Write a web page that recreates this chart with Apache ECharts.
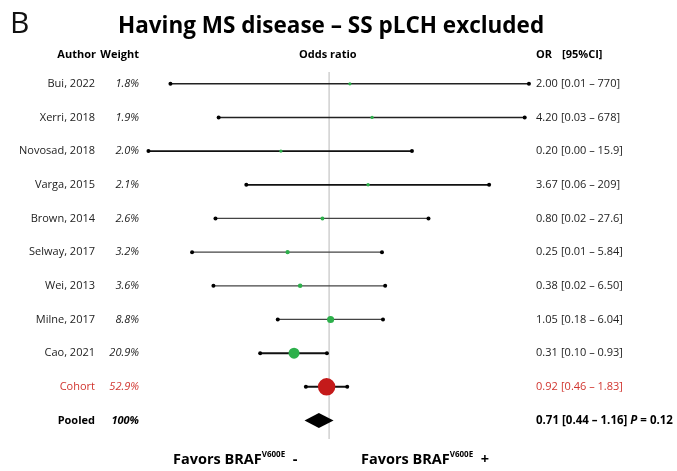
<!DOCTYPE html>
<html>
<head>
<meta charset="utf-8">
<script src="https://cdn.jsdelivr.net/npm/echarts@6/dist/echarts.min.js"></script>
<style>
  html, body { margin: 0; padding: 0; background: #fff; }
  #main { width: 677px; height: 471px; }
</style>
</head>
<body>
<div id="main"></div>
<script>
  // study rows, top to bottom
  const authors = ['Bui, 2022', 'Xerri, 2018', 'Novosad, 2018', 'Varga, 2015', 'Brown, 2014', 'Selway, 2017',
    'Wei, 2013', 'Milne, 2017', 'Cao, 2021', 'Cohort', 'Pooled'];
  const weights = [1.8, 1.9, 2.0, 2.1, 2.6, 3.2, 3.6, 8.8, 20.9, 52.9, 100];
  const orVals = [2.00, 4.20, 0.20, 3.67, 0.80, 0.25, 0.38, 1.05, 0.31, 0.92, 0.71];
  const lowerVals = [0.005, 0.025, 0.0024, 0.063, 0.0225, 0.0103, 0.021, 0.18, 0.10, 0.46, 0.44];
  const upperVals = [790, 686, 15.9, 209, 27.6, 5.84, 6.50, 6.04, 0.93, 1.83, 1.16];
  const orLabels = ['2.00', '4.20', '0.20', '3.67', '0.80', '0.25', '0.38', '1.05', '0.31', '0.92', '0.71'];
  const ciLabels = ['[0.01 – 770]', '[0.03 – 678]', '[0.00 – 15.9]', '[0.06 – 209]', '[0.02 – 27.6]',
    '[0.01 – 5.84]', '[0.02 – 6.50]', '[0.18 – 6.04]', '[0.10 – 0.93]', '[0.46 – 1.83]', '[0.44 – 1.16]'];
  const pValue = '0.12';

  const FONT = '"Open Sans", "Noto Sans", sans-serif';
  const GREEN = '#2db04b';
  const RED = '#c41a1a';
  const RED_TEXT = '#d1352f';
  // line weights of the CI whiskers (style only)
  const lineW = [1.6, 1.6, 1.8, 1.8, 1.2, 1.2, 1.2, 1.2, 2, 2, 0];
  const lineC = ['#222', '#222', '#111', '#111', '#444', '#444', '#444', '#444', '#111', '#111', '#111'];

  const rows = authors.map((a, i) => [orVals[i], i]);

  let myChart = echarts.init(document.getElementById('main'));

  function fmtWeight(w) {
    return (w >= 100 ? String(w) : w.toFixed(1)) + '%';
  }

  function renderRow(params, api) {
    let i = params.dataIndex;
    let y = api.coord([1, i])[1];
    let xl = api.coord([lowerVals[i], i])[0];
    let xu = api.coord([upperVals[i], i])[0];
    let xp = api.coord([orVals[i], i])[0];
    let isCohort = authors[i] === 'Cohort';
    let isPooled = authors[i] === 'Pooled';
    let txtColor = isCohort ? RED_TEXT : '#222';
    let children = [];

    children.push({
      type: 'text', style: {
        x: 95, y: y, text: authors[i], align: 'right', verticalAlign: 'middle',
        font: (isPooled ? 'bold ' : '') + '11px ' + FONT, fill: isPooled ? '#000' : txtColor
      }
    });
    children.push({
      type: 'text', style: {
        x: 139, y: y, text: fmtWeight(weights[i]), align: 'right', verticalAlign: 'middle',
        font: 'italic ' + (isPooled ? 'bold ' : '') + '11px ' + FONT, fill: isPooled ? '#000' : txtColor
      }
    });

    if (isPooled) {
      children.push({
        type: 'polygon',
        shape: {points: [[xl, y], [xp, y - 7.5], [xu, y], [xp, y + 7.5]]},
        style: {fill: '#000'}
      });
      children.push({
        type: 'text', style: {
          x: 536, y: y, verticalAlign: 'middle',
          text: '{b|' + orLabels[i] + ' ' + ciLabels[i] + ' }{i|P}{b| = ' + pValue + '}',
          rich: {
            b: {font: 'bold 11.5px ' + FONT, fill: '#000'},
            i: {font: 'italic bold 11.5px ' + FONT, fill: '#000'}
          }
        }
      });
    } else {
      children.push({
        type: 'line', shape: {x1: xl, y1: y, x2: xu, y2: y},
        style: {stroke: lineC[i], lineWidth: lineW[i]}
      });
      children.push({type: 'circle', shape: {cx: xl, cy: y, r: 2}, style: {fill: '#000'}});
      children.push({type: 'circle', shape: {cx: xu, cy: y, r: 2}, style: {fill: '#000'}});
      let d = 2.4 * Math.sqrt(weights[i]);
      children.push({
        type: 'circle', shape: {cx: xp, cy: y, r: d / 2},
        style: {fill: isCohort ? RED : GREEN}
      });
      children.push({
        type: 'text', style: {
          x: 536, y: y, text: orLabels[i], verticalAlign: 'middle',
          font: '11px ' + FONT, fill: txtColor
        }
      });
      children.push({
        type: 'text', style: {
          x: 561, y: y, text: ciLabels[i], verticalAlign: 'middle',
          font: '11px ' + FONT, fill: txtColor
        }
      });
    }
    return {type: 'group', children: children};
  }

  function favorsText(x, sign) {
    return {
      type: 'text', left: x, top: 451,
      style: {
        text: '{a|Favors BRAF}{s|V600E}{a|  ' + sign + '}',
        rich: {
          a: {font: 'bold 14.5px ' + FONT, fill: '#000', lineHeight: 17},
          s: {font: 'bold 8px ' + FONT, fill: '#000', lineHeight: 17, verticalAlign: 'top'}
        }
      }
    };
  }

  myChart.setOption({
    animation: false,
    grid: {left: 143, right: 141, top: 72, bottom: 32},
    xAxis: {
      type: 'log', logBase: 10, min: 0.002, max: 1000,
      show: false
    },
    yAxis: {
      type: 'value', inverse: true, min: -0.35, max: 10.55,
      show: false
    },
    graphic: [
      {type: 'text', left: 10, top: 9, style: {text: 'B', font: '30px ' + FONT, fill: '#111'}},
      {type: 'text', left: 118, top: 15, style: {text: 'Having MS disease – SS pLCH excluded', font: 'bold 22.5px ' + FONT, fill: '#000'}},
      {type: 'text', right: 677 - 96, top: 49, style: {text: 'Author', font: 'bold 11px ' + FONT, fill: '#000'}},
      {type: 'text', right: 677 - 139, top: 49, style: {text: 'Weight', font: 'bold 11px ' + FONT, fill: '#000'}},
      {type: 'text', left: 299, top: 49, style: {text: 'Odds ratio', font: 'bold 11px ' + FONT, fill: '#000'}},
      {type: 'text', left: 536, top: 49, style: {text: 'OR', font: 'bold 11px ' + FONT, fill: '#000'}},
      {type: 'text', left: 562, top: 49, style: {text: '[95%CI]', font: 'bold 11px ' + FONT, fill: '#000'}},
      favorsText(173, '-'),
      favorsText(361, '+')
    ],
    series: [
      {
        type: 'line',
        data: [[1, -0.35], [1, 10.55]],
        symbol: 'none',
        lineStyle: {color: '#d0d0d0', width: 1.5},
        silent: true,
        z: 1
      },
      {
        type: 'custom',
        renderItem: renderRow,
        data: rows,
        clip: false,
        z: 2
      }
    ]
  });
</script>
</body>
</html>
